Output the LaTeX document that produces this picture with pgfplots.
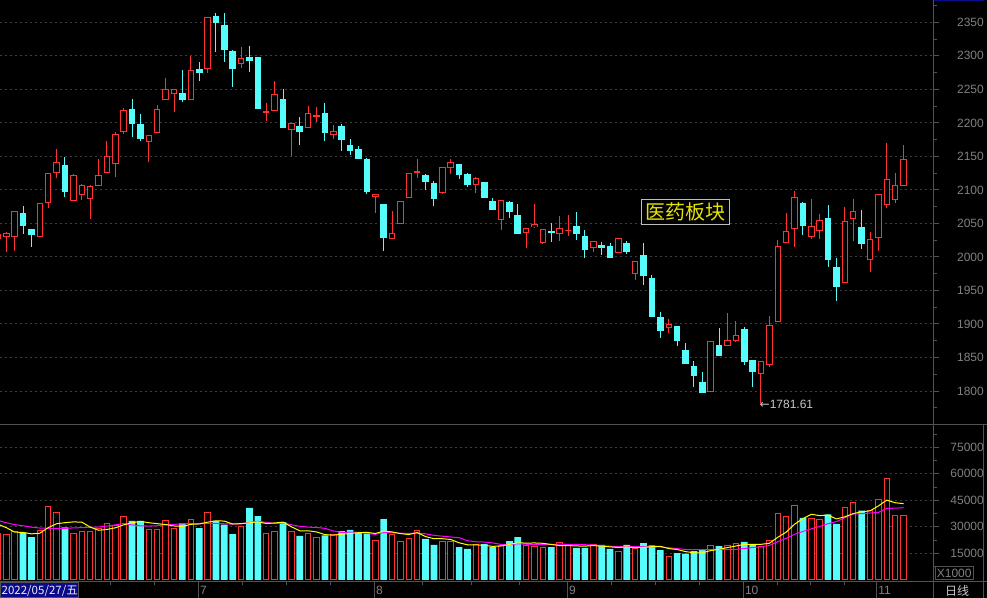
\documentclass[border=0pt]{standalone}
\usepackage{fontspec}
\setmainfont{Liberation Sans}
\newfontfamily\cjk{Noto Sans CJK SC}
\newfontfamily\dejavu{DejaVu Sans}
\usepackage{pgfplots}
\pgfplotsset{compat=1.18}
\usepackage{pgfplotstable}

\definecolor{upred}{RGB}{255,50,50}
\definecolor{dncyan}{RGB}{84,252,252}
\definecolor{gridc}{RGB}{62,62,62}
\definecolor{labgray}{RGB}{128,128,128}
\definecolor{sepgray}{RGB}{82,82,82}
\definecolor{navyb}{RGB}{10,10,140}
\definecolor{titley}{RGB}{228,228,0}
\definecolor{boxgray}{RGB}{190,190,190}
\definecolor{anngray}{RGB}{200,200,200}
\definecolor{mayel}{RGB}{255,255,0}
\definecolor{mamag}{RGB}{255,0,255}

% up (red, hollow) candles: index, open, high, low, close, volume
\pgfplotstableread{
k o h l c v
0 2028 2036 2020 2034 26300
1 2030.8 2037.7 2007.0 2035.7 25750
2 2030.2 2069.0 2008.9 2068.1 27200
5 2030.2 2080.0 2030.2 2080.0 28000
6 2080.9 2125.0 2073.5 2124.8 41600
7 2125.7 2161.1 2118.2 2141.2 38200
9 2084.5 2123.3 2084.0 2121.8 26300
10 2092.9 2108.8 2085.0 2106.9 27450
11 2086.9 2107.3 2057.1 2105.4 27450
12 2106.3 2146.1 2106.0 2121.8 29300
13 2125.7 2173.0 2125.0 2150.2 32000
14 2139.1 2186.9 2119.7 2183.0 30850
15 2186.9 2221.8 2183.9 2218.8 35900
18 2172.5 2182.0 2142.1 2181.5 28200
19 2186.0 2226.7 2185.5 2220.7 28200
20 2235.2 2267.0 2235.0 2249.1 33300
21 2244.1 2250.0 2216.7 2249.1 29300
23 2235.2 2299.8 2235.0 2278.4 34200
25 2280.9 2358.0 2274.9 2357.5 38200
29 2288.9 2313.2 2282.3 2296.3 30300
32 2216.5 2229.6 2203.3 2217.0 26300
33 2218.2 2262.5 2218.0 2242.6 27450
35 2190.4 2200.0 2151.1 2199.4 27450
37 2193.4 2225.2 2193.0 2214.3 26300
38 2210.0 2223.7 2201.3 2210.6 24200
40 2183.2 2196.8 2175.3 2187.4 25750
45 2089.9 2094.0 2066.0 2093.5 22500
47 2027.2 2068.6 2027.0 2035.3 25750
48 2049.6 2083.0 2049.6 2083.0 21950
49 2088.4 2124.8 2088.4 2124.8 23500
50 2126.8 2146.1 2118.2 2127.5 28000
53 2096.5 2134.0 2094.4 2133.7 21950
54 2133.7 2146.1 2124.2 2141.6 21400
57 2107.8 2119.3 2095.9 2117.3 19700
60 2055.6 2085.0 2040.2 2084.5 19500
63 2036.8 2043.0 2013.8 2042.7 19500
64 2045.1 2079.0 2043.7 2048.7 19100
65 2021.3 2041.5 2019.8 2041.3 18550
67 2035.3 2061.1 2023.8 2042.7 21200
68 2039.5 2062.6 2031.7 2040.0 19500
71 2014.3 2024.0 2007.2 2023.3 20100
74 2007.0 2028.0 2006.0 2027.8 16100
76 1975.6 1993.0 1966.0 1992.8 17800
80 1895.1 1907.5 1887.0 1899.6 13450
85 1799.6 1874.5 1799.0 1874.2 19500
87 1868.2 1915.9 1868.0 1875.7 19500
88 1875.7 1904.5 1872.7 1883.2 20650
91 1826.5 1844.0 1781.61 1843.7 19100
92 1839.8 1911.9 1836.3 1898.1 22500
93 1903.9 2024.8 1903.0 2015.9 37600
94 2021.8 2065.6 2021.0 2038.7 35900
95 2042.2 2098.4 2015.3 2089.0 42150
97 2030.8 2086.0 2027.2 2045.7 34800
98 2039.8 2064.1 2027.2 2054.7 33850
101 1961.6 2074.5 1961.0 2053.2 41000
102 2057.1 2086.5 2024.3 2068.1 43850
104 1996.5 2036.8 1978.0 2026.3 39500
105 2029.3 2094.0 2009.4 2093.5 45550
106 2078.5 2169.5 2073.5 2115.8 57450
107 2085.4 2125.2 2081.0 2106.9 36500
108 2106.9 2167.0 2106.0 2145.7 36500
}\up

% down (cyan, filled) candles
\pgfplotstableread{
k o h l c v
3 2065.6 2076.0 2034.7 2046.6 26650
4 2041.7 2042.0 2015.3 2033.2 24200
8 2137.2 2149.1 2089.5 2097.3 29700
16 2220.3 2235.6 2179.4 2198.8 33300
17 2198.3 2213.3 2173.4 2176.4 33300
22 2244.6 2278.9 2231.6 2234.1 32000
24 2280.4 2290.8 2262.9 2274.9 29300
26 2359.4 2363.5 2306.2 2349.5 33300
27 2346.0 2363.5 2291.3 2309.2 31200
28 2307.2 2308.7 2254.0 2280.9 25900
30 2298.3 2314.7 2276.4 2292.8 40650
31 2298.3 2299.0 2220.0 2221.2 36100
34 2235.6 2250.5 2192.0 2192.9 32700
36 2195.3 2208.8 2167.5 2186.9 24800
39 2214.3 2229.6 2173.4 2185.4 25200
41 2195.3 2198.3 2158.1 2174.4 27600
42 2167.0 2175.9 2152.1 2158.1 28200
43 2161.1 2165.5 2146.0 2146.1 26650
44 2146.1 2147.0 2094.4 2097.3 26100
46 2079.0 2079.5 2009.4 2028.7 34400
51 2122.3 2123.0 2100.3 2112.3 23100
52 2110.3 2113.3 2076.5 2086.9 19700
55 2138.7 2139.0 2116.3 2122.7 18550
56 2123.7 2125.2 2104.4 2107.4 17450
58 2111.8 2112.0 2088.0 2088.4 20250
59 2083.5 2087.9 2069.5 2070.0 18750
61 2082.0 2083.5 2058.1 2067.1 21950
62 2062.6 2079.0 2034.0 2034.7 24200
66 2037.5 2050.6 2022.8 2037.0 18550
69 2045.5 2067.1 2025.7 2034.7 18000
70 2031.3 2040.2 1999.0 2010.9 18000
72 2017.4 2021.8 2003.4 2013.8 19700
73 2016.3 2020.4 1998.0 1998.2 17450
75 2020.7 2023.8 2004.9 2007.8 19700
77 2003.0 2020.7 1958.6 1972.1 20800
78 1967.5 1972.6 1910.0 1910.9 19500
79 1910.4 1917.4 1879.6 1890.0 16850
81 1897.0 1897.0 1867.6 1875.1 15150
82 1861.2 1871.6 1840.0 1840.8 14800
83 1837.3 1844.8 1806.5 1822.8 16300
84 1813.5 1828.4 1797.0 1797.5 16850
86 1868.7 1894.0 1852.0 1852.7 19100
89 1892.5 1895.5 1839.0 1843.7 21400
90 1845.3 1846.3 1806.5 1828.9 19700
96 2080.5 2082.5 2033.2 2046.6 35000
99 2058.1 2077.5 1985.5 1995.9 37050
100 1985.0 1998.5 1934.8 1955.6 31600
103 2044.7 2070.0 2012.3 2019.8 39100
}\down

% volume moving averages (5 and 10 days)
\pgfplotstableread{
k ma5 ma10
0 31500 33600
1 29500 32300
2 27000 31200
3 26800 30600
4 26020 29800
5 26360 29300
6 29530 29100
7 31730 29100
8 32340 29100
9 32760 29390
10 32650 29510
11 29820 29680
12 28040 29890
13 28500 30420
14 29410 31090
15 31100 31880
16 32270 31050
17 33070 30560
18 32310 30410
19 31780 30600
20 31260 31180
21 30460 31370
22 30200 31640
23 31400 31860
24 31620 31700
25 32600 31930
26 33400 31930
27 33240 31720
28 31580 31490
29 31780 31700
30 32270 32440
31 32830 33120
32 31850 32550
33 32160 31870
34 32640 32210
35 30000 31140
36 27740 30290
37 27740 29800
38 27090 29630
39 25590 29120
40 25250 27630
41 25810 26780
42 26190 26970
43 26680 26890
44 26860 26230
45 26210 25730
46 27570 26690
47 27080 26640
48 26140 26410
49 25620 26240
50 26720 26470
51 24460 26020
52 23250 25170
53 23250 24700
54 22830 24230
55 20940 23830
56 19810 22140
57 19810 21530
58 19470 21360
59 18940 20890
60 19130 20040
61 20030 19920
62 20930 20370
63 20780 20130
64 20850 19900
65 20660 19900
66 19980 20010
67 19380 20160
68 19380 20080
69 19160 20010
70 19050 19860
71 19360 19670
72 19060 19220
73 18650 19020
74 18270 18720
75 18610 18830
76 18150 18760
77 18370 18720
78 18780 18720
79 18930 18600
80 17680 18150
81 17150 17650
82 15950 17160
83 15310 17050
84 15310 17120
85 16520 17100
86 17310 17230
87 18250 17100
88 19120 17220
89 20030 17670
90 20070 18300
91 20070 18690
92 20670 19460
93 24060 21590
94 26960 23500
95 31450 25760
96 34630 27350
97 37090 28880
98 36340 30200
99 36570 31770
100 34460 32960
101 35660 35150
102 37470 37280
103 38520 37430
104 39010 37790
105 41800 38130
106 45090 40380
107 43620 40550
108 43100 40810
}\ma

\pgfplotsset{
  kbase/.style={
    scale only axis, width=933.3bp, anchor=south west,
    axis line style={draw=none},
    xtick=\empty, xmin=0.2487, xmax=111.55,
    scaled y ticks=false,
    ytick pos=right, yticklabel pos=right, tick align=outside,
    yticklabel style={anchor=east, inner sep=0pt, xshift=44.7bp,
      font=\fontsize{12bp}{12bp}\selectfont, text=labgray},
    major tick length=6bp, minor tick length=3.3bp,
    tick style={sepgray, line width=1bp},
    ymajorgrids,
    major grid style={gridc, dash pattern=on 2bp off 3bp, line width=1bp},
  },
  candle/.style={draw=none, mark=none,
    error bars/.cd, y dir=both, y explicit, error mark=none},
}
\tikzset{lab/.style={font=\fontsize{12bp}{12bp}\selectfont, text=labgray, inner sep=0pt}}

\begin{document}
\begin{tikzpicture}
\useasboundingbox (0,0) rectangle (987bp,598bp);
\fill[black] (0,0) rectangle (987bp,598bp);

% ---------------- price panel ----------------
\begin{axis}[kbase, at={(0bp,175bp)}, height=423bp,
  ymin=1752.3, ymax=2383.31,
  ytick={1800,1850,1900,1950,2000,2050,2100,2150,2200,2250,2300,2350},
  yticklabels={1800,1850,1900,1950,2000,2050,2100,2150,2200,2250,2300,2350},
  minor ytick={1775,1825,...,2375}]
% red wicks
\addplot[candle, error bar style={draw=upred, line width=1bp}]
  table[x=k, y expr={(\thisrow{h}+\thisrow{l})/2}, y error expr={(\thisrow{h}-\thisrow{l})/2}] {\up};
% red bodies (outer)
\addplot[candle, error bar style={draw=upred, line width=6.5bp}]
  table[x=k, y expr={(\thisrow{o}+\thisrow{c})/2}, y error expr={(\thisrow{c}-\thisrow{o})/2+0.75}] {\up};
% red bodies (hollow inside)
\addplot[candle, error bar style={draw=black, line width=4.5bp}]
  table[x=k, y expr={(\thisrow{o}+\thisrow{c})/2}, y error expr={max((\thisrow{c}-\thisrow{o})/2-0.75,0)}] {\up};
% cyan wicks
\addplot[candle, error bar style={draw=dncyan, line width=1bp}]
  table[x=k, y expr={(\thisrow{h}+\thisrow{l})/2}, y error expr={(\thisrow{h}-\thisrow{l})/2}] {\down};
% cyan bodies
\addplot[candle, error bar style={draw=dncyan, line width=6.7bp}]
  table[x=k, y expr={(\thisrow{o}+\thisrow{c})/2}, y error expr={(\thisrow{o}-\thisrow{c})/2+0.5}] {\down};
\end{axis}

% ---------------- volume panel ----------------
\begin{axis}[kbase, at={(0bp,16bp)}, height=157bp,
  ymin=-1245, ymax=87617,
  ytick={15000,30000,45000,60000,75000},
  yticklabels={15000,30000,45000,60000,75000},
  minor ytick={7500,22500,37500,52500,67500,82500}]
\addplot[ybar, bar width=5.5bp, bar shift=0pt, draw=upred, fill=black, line width=1bp]
  table[x=k, y=v] {\up};
\addplot[ybar, bar width=6.7bp, bar shift=0pt, draw=none, fill=dncyan]
  table[x=k, y=v] {\down};
\addplot[mamag, line width=1bp, mark=none] table[x=k, y=ma10] {\ma};
\addplot[mayel, line width=1bp, mark=none] table[x=k, y=ma5] {\ma};
\end{axis}

% ---------------- frame, labels (image pixel coordinates) ----------------
\begin{scope}[shift={(0bp,598bp)}, x=1bp, y=-1bp]
  \draw[sepgray, line width=1bp] (0,424.5) -- (987,424.5);
  \draw[sepgray, line width=1bp] (0,582) -- (987,582);
  \draw[sepgray, line width=1bp] (933.3,0) -- (933.3,598);
  \draw[sepgray, line width=1bp] (983.5,425) -- (983.5,598);
  \fill[navyb] (934,0) rectangle (984,1.5);

  \draw[sepgray, line width=1bp] (935,567) rectangle (973.3,580);
  \node[lab] at (954.2,573.5) {X1000};
  \node[inner sep=0pt, text=anngray, font=\cjk\fontsize{12bp}{12bp}\selectfont] at (957,590.5) {日线};

  % date box
  \filldraw[fill=navyb, draw=sepgray, line width=1bp] (0,582.7) rectangle (78,598);
  \node[anchor=west, inner sep=0pt, text=white!85!gray, font=\cjk\fontsize{11.5bp}{11.5bp}\selectfont] at (1.5,590.5) {2022/05/27/五};

  % month separators and labels
  \foreach \xx/\mm in {198.3/7, 374.3/8, 567.3/9, 743.3/10, 876.7/11} {
    \draw[sepgray, line width=1bp] (\xx,582) -- (\xx,598);
    \node[lab, anchor=west] at (\xx+1.5,590.5) {\mm};
  }
  \foreach \xx in {110,154.3,242.3,286.7,330.3,422.3,471.7,519.3,611.3,655.7,699.3,777.3,810.7,844}
    \draw[sepgray, line width=1bp] (\xx,582) -- (\xx,585);

  % annotations
  \node[draw=boxgray, line width=1bp, fill=black, text=titley, inner sep=0pt,
        minimum width=88.4bp, minimum height=25.3bp,
        font=\cjk\fontsize{20bp}{20bp}\selectfont] at (685.5,211.7) {医药板块};
  \node[anchor=west, inner sep=0pt, text=anngray, font=\fontsize{12bp}{12bp}\selectfont]
        at (759.5,404.5) {{\dejavu ←}1781.61};
\end{scope}
\end{tikzpicture}
\end{document}
